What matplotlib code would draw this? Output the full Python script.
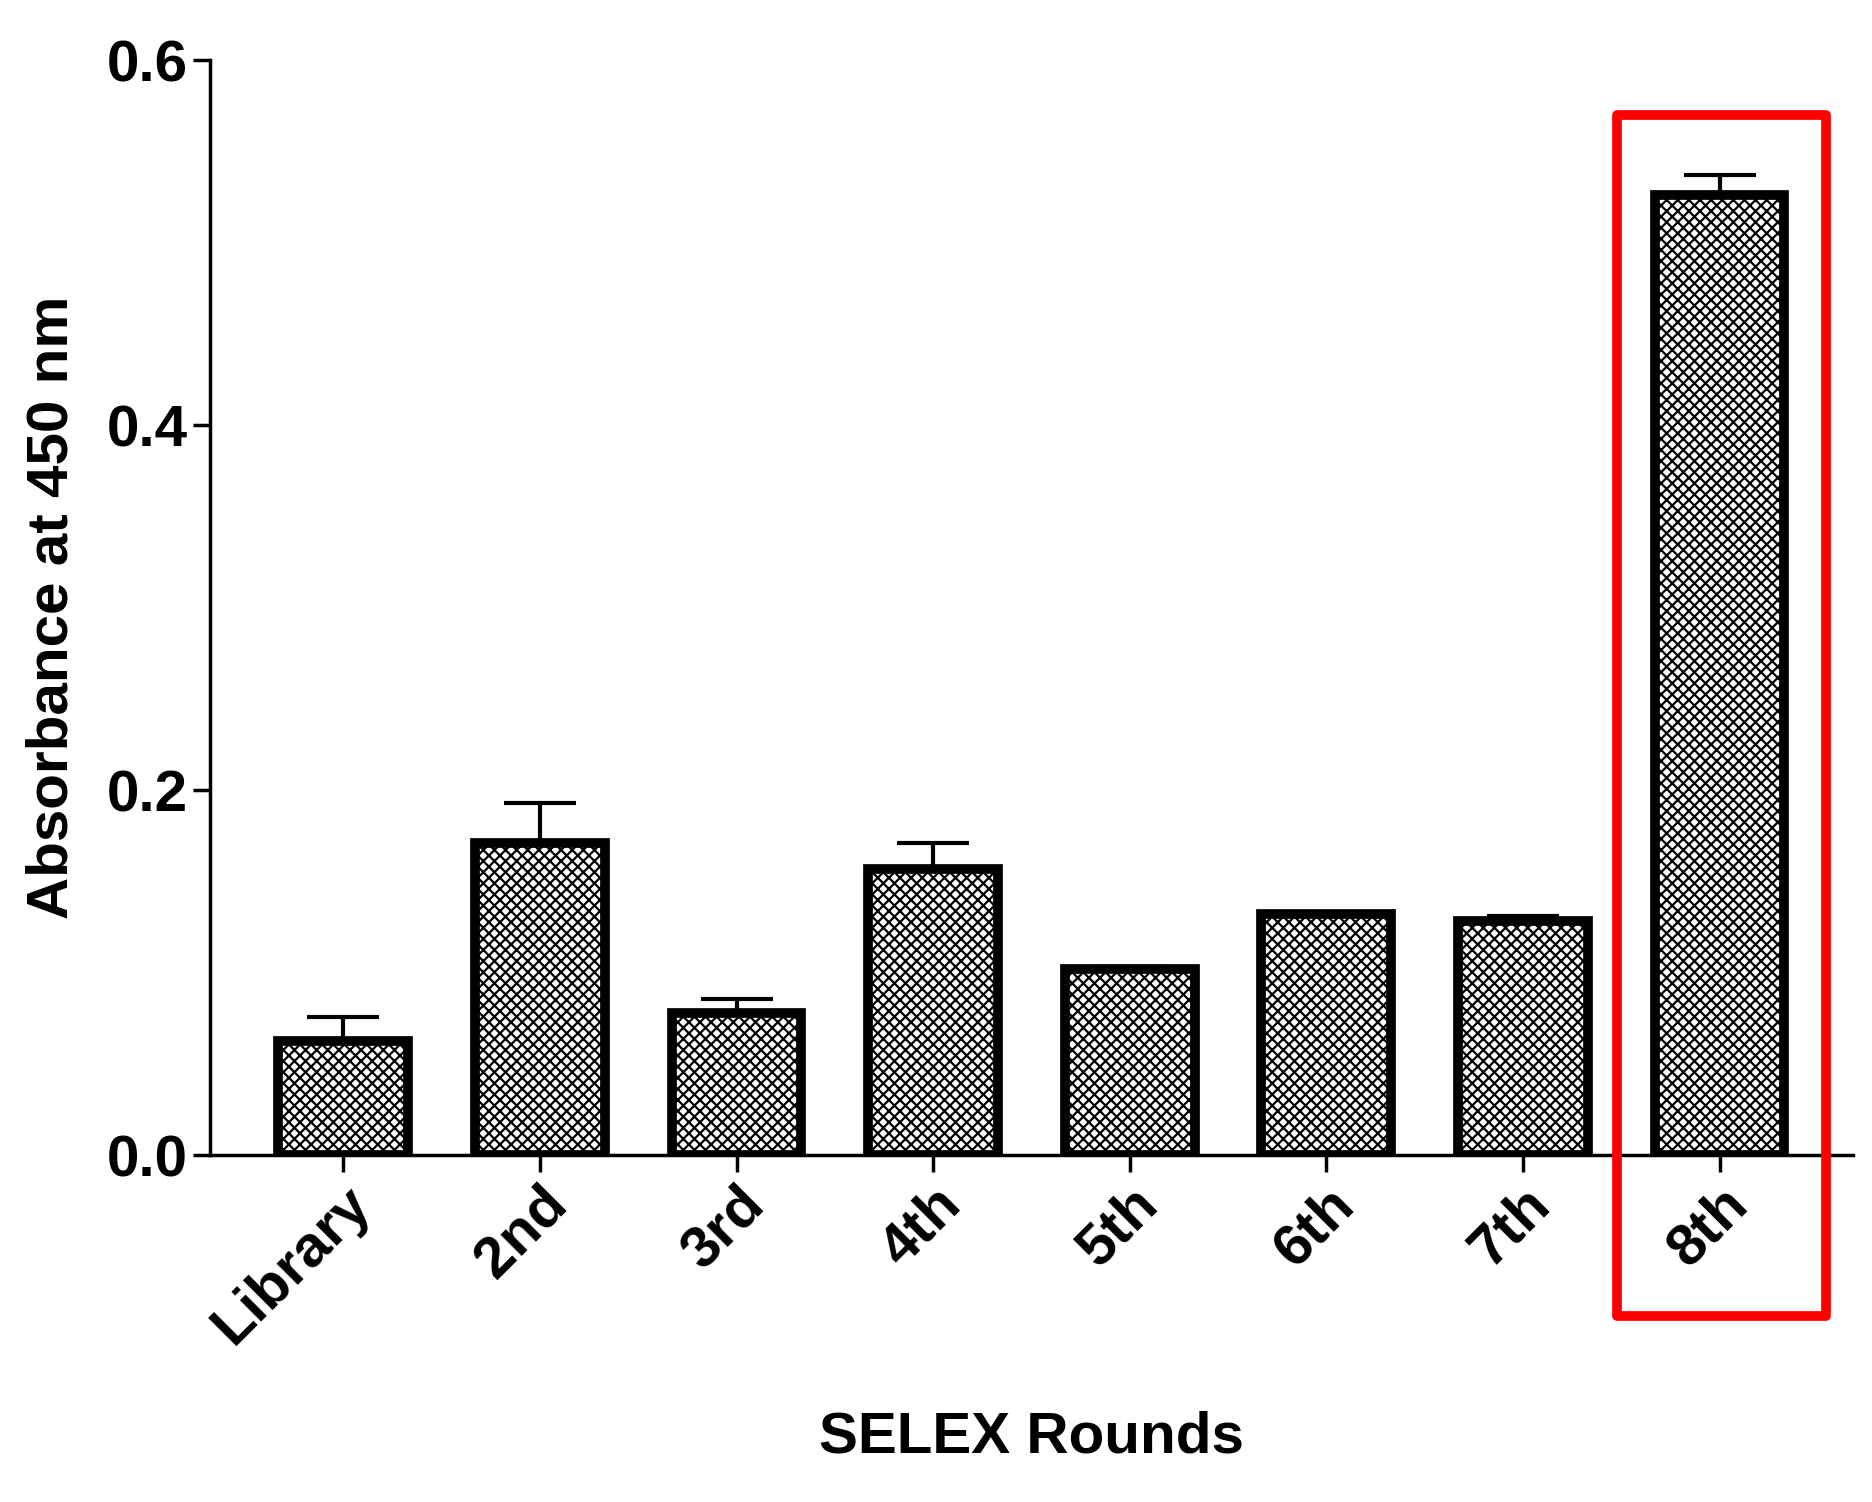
import matplotlib
matplotlib.use("Agg")
import matplotlib.pyplot as plt
from matplotlib.patches import Rectangle

categories = ["Library", "2nd", "3rd", "4th", "5th", "6th", "7th", "8th"]
values = [0.0625, 0.171, 0.0776, 0.157, 0.102, 0.132, 0.128, 0.526]
errors = [0.0132, 0.022, 0.008, 0.014, 0.001, 0.001, 0.003, 0.011]

plt.rcParams['font.family'] = ['Liberation Sans', 'DejaVu Sans']
plt.rcParams['hatch.linewidth'] = 1.6
fig = plt.figure(figsize=(18.72, 15.02), dpi=100)
ax = fig.add_axes([0.112, 0.231, 0.878, 0.729])
x = list(range(len(categories)))
ax.bar(x, values, width=0.66, color='white', edgecolor='black', linewidth=7, hatch='xxx', zorder=2)
ax.errorbar(x, values, yerr=[[0]*len(values), errors], fmt='none', ecolor='black',
            elinewidth=3, capsize=26, capthick=3, zorder=1)
ax.set_xlim(-0.68, 7.68)
ax.set_ylim(0, 0.6)
ax.set_yticks([0.0, 0.2, 0.4, 0.6])
ax.set_yticklabels(["0.0", "0.2", "0.4", "0.6"], fontsize=42, fontweight='bold')
ax.set_xticks(x)
ax.set_xticklabels(categories, rotation=45, ha='right', rotation_mode='anchor', fontsize=42, fontweight='bold')
for s in ['top', 'right']:
    ax.spines[s].set_visible(False)
for s in ['left', 'bottom']:
    ax.spines[s].set_linewidth(2.5)
ax.tick_params(width=2.5, length=12)
ax.set_ylabel("Absorbance at 450 nm", fontsize=42, fontweight='bold', labelpad=20)
ax.set_xlabel("SELEX Rounds", fontsize=42, fontweight='bold', labelpad=40)
rect = Rectangle((6.48, -0.088), 1.06, 0.658, fill=False, edgecolor='red', linewidth=7,
                 clip_on=False, zorder=5, joinstyle='round')
ax.add_patch(rect)
fig.savefig("out.png", dpi=100)
